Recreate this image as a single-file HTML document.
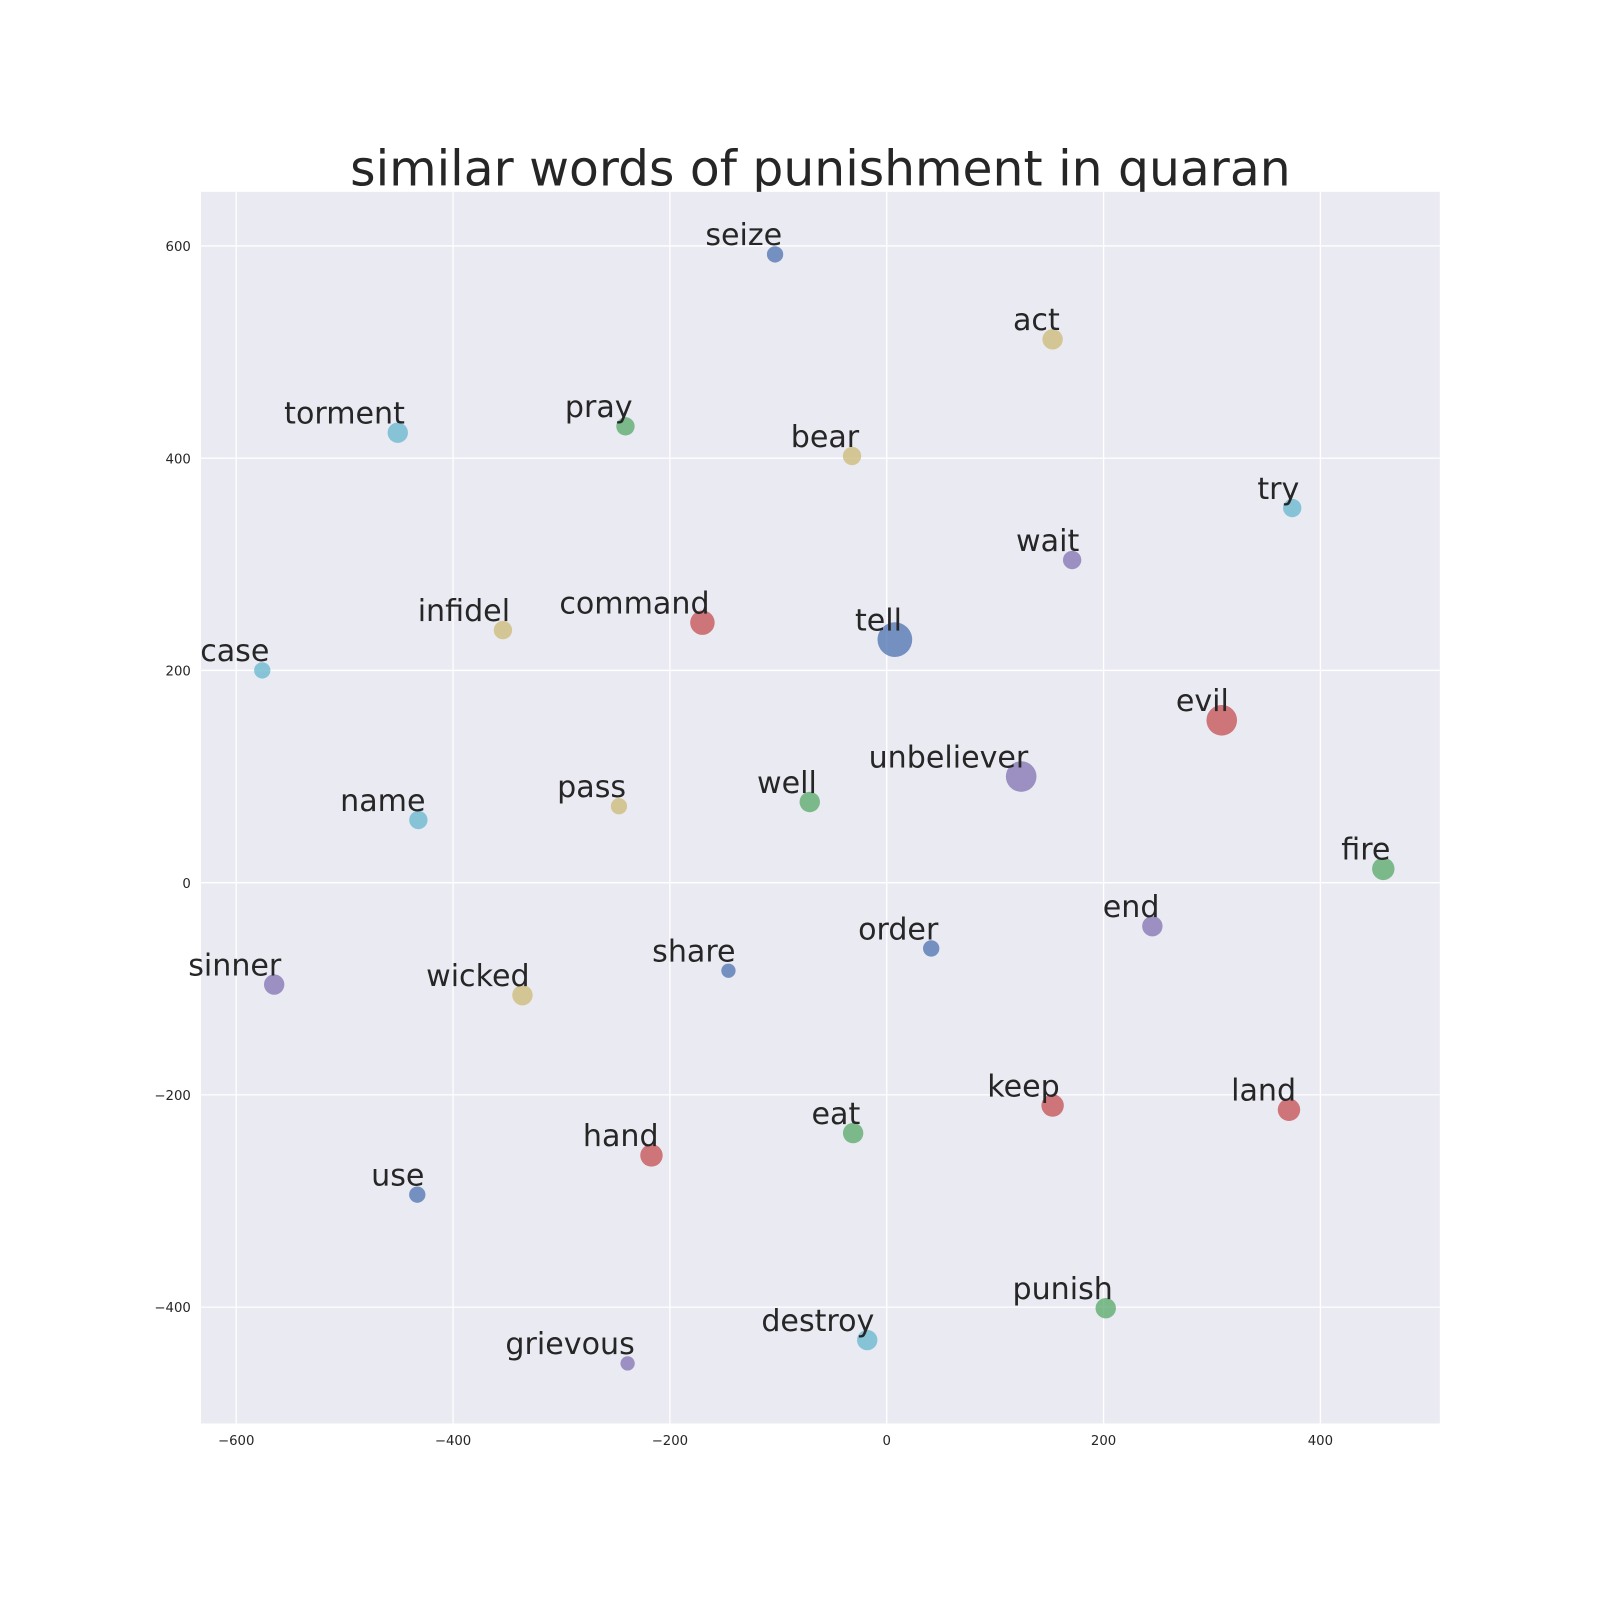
<!DOCTYPE html>
<html><head><meta charset="utf-8"><style>
body{margin:0;background:#fff}
svg{display:block;font-family:"DejaVu Sans","Liberation Sans",sans-serif}
</style></head><body>
<svg id="chart" width="1600" height="1600" viewBox="0 0 1568 1568">
<text x="804" y="182" text-anchor="middle" font-size="47.8" fill="#262626">similar words of punishment in quaran</text>
<rect x="197" y="188" width="1214" height="1207" fill="#EAEAF2"/>
<g id="grid"></g><g id="ticks"></g><g id="marks"></g>
</svg>
<script>
const words=["seize","act","torment","pray","bear","try","wait","infidel","command","tell","case","evil","unbeliever","name","pass","well","fire","end","order","share","sinner","wicked","keep","land","eat","hand","use","punish","destroy","grievous"];
const xs=[-103,153,-451,-241,-32,374,171,-354,-170,7.5,-576,309,124,-432,-247,-71,458,245,41,-146,-565,-336,153,371,-31,-217,-433,202,-18,-239];
const ys=[592,512,424,430,402,353,304,238,245,229,200,153,100,59,72,76,13,-41,-62,-83,-96,-106,-210,-214,-236,-257,-294,-401,-431,-453];
const radii=[8,10,10,9,9,9,9,9,12,17,8,15,15,9,8,10,11,10,8,7,10,10,11,11,10,11,8,10,10,7];
const colorIdx=[0,4,5,1,4,5,3,4,2,0,5,2,3,5,4,1,1,3,0,0,3,4,2,2,1,2,0,1,5,3];
const xTicks=[-600,-400,-200,0,200,400];
const yTicks=[-400,-200,0,200,400,600];
const palette=["#4C72B0","#55A868","#C44E52","#8172B2","#CCB974","#64B5CD"];
const NS="http://www.w3.org/2000/svg";
const sx=v=>869+v*1.0625, sy=v=>865-v*1.04;
function mk(tag,attrs,parent){const e=document.createElementNS(NS,tag);for(const k in attrs)e.setAttribute(k,attrs[k]);document.getElementById(parent).appendChild(e);return e;}
xTicks.forEach(t=>{
 const l=mk("line",{x1:sx(t),x2:sx(t),y1:188,y2:1395,stroke:"#fff","stroke-width":1.3},"grid");
 
 
 const tx=mk("text",{x:sx(t),y:1416,"text-anchor":"middle","font-size":13,fill:"#262626"},"ticks");
 tx.textContent=t<0?"\u2212"+(-t):t;
 
 
});
yTicks.forEach(t=>{
 const l=mk("line",{x1:197,x2:1411,y1:sy(t),y2:sy(t),stroke:"#fff","stroke-width":1.3},"grid");
 
 
 const tx=mk("text",{x:187,y:sy(t)+5,"text-anchor":"end","font-size":13,fill:"#262626"},"ticks");
 tx.textContent=t<0?"\u2212"+(-t):t;
 
 
});
words.forEach((w,i)=>{
 const c=mk("circle",{cx:sx(xs[i]),cy:sy(ys[i]),r:radii[i],fill:palette[colorIdx[i]],"fill-opacity":0.75},"marks");
 
 
 const t=mk("text",{x:sx(xs[i])+7,y:sy(ys[i])-9,"text-anchor":"end","font-size":29.5,fill:"#262626"},"marks");
 t.textContent=w;
 
 
});
</script>
</body></html>
